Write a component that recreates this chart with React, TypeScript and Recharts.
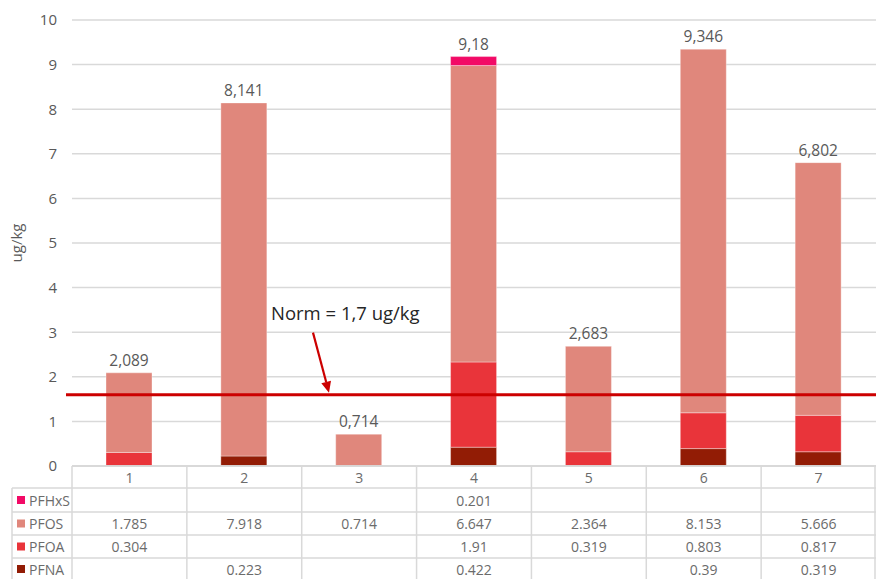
import React from 'react';
import {
  BarChart, Bar, XAxis, YAxis, CartesianGrid, ReferenceLine, LabelList,
} from 'recharts';

// ---- data ----
const categories = ['1', '2', '3', '4', '5', '6', '7'];
const pfhxs: (number | null)[] = [null, null, null, 0.201, null, null, null];
const pfos: (number | null)[] = [1.785, 7.918, 0.714, 6.647, 2.364, 8.153, 5.666];
const pfoa: (number | null)[] = [0.304, null, null, 1.91, 0.319, 0.803, 0.817];
const pfna: (number | null)[] = [null, 0.223, null, 0.422, null, 0.39, 0.319];
const yTicks = [0, 1, 2, 3, 4, 5, 6, 7, 8, 9, 10];
const normValue = 1.6; // drawn position of the line
const normText = 'Norm = 1,7 ug/kg';

// table order (top → bottom)
const SERIES = [
  { key: 'PFHxS', values: pfhxs, color: '#f20a66' },
  { key: 'PFOS', values: pfos, color: '#e0877c' },
  { key: 'PFOA', values: pfoa, color: '#e9343a' },
  { key: 'PFNA', values: pfna, color: '#921c05' },
];

const W = 876;
const H = 579;
const Y_AXIS_W = 72;
const TABLE_H = 113;
const COL_W = (W - Y_AXIS_W) / categories.length;
const ROW_LINES = [0, 22, 46, 69, 92];        // offsets below plot bottom
const ROW_CENTERS = [11, 34, 57.5, 80.5, 103];
const GRID = '#d9d9d9';
const TXT = '#6b6b6b';
const FONT = '"Open Sans", "DejaVu Sans", sans-serif';

const fmtTotal = (v: number) =>
  v.toFixed(3).replace(/0+$/, '').replace(/\.$/, '').replace('.', ',');

const chartData = categories.map((c, i) => {
  const row: Record<string, any> = { name: c };
  let total = 0;
  SERIES.forEach(s => {
    const v = s.values[i] ?? 0;
    row[s.key] = v;
    total += v;
  });
  row.total = fmtTotal(total);
  return row;
});

// topmost non-empty series key per total label
const topKeyByTotal: Record<string, string> = {};
chartData.forEach((row, i) => {
  const s = SERIES.find(s => (s.values[i] ?? 0) > 0);
  topKeyByTotal[row.total] = s ? s.key : '';
});

function TableTick(props: any) {
  const { x, y, payload, index } = props;
  const left = x - COL_W / 2;
  const right = x + COL_W / 2;
  const i = index as number;
  return (
    <g fontFamily={FONT}>
      <line x1={left} x2={left} y1={y} y2={y + TABLE_H} stroke={GRID} strokeWidth={1.5} />
      {i === categories.length - 1 && (
        <line x1={right - 1} x2={right - 1} y1={y} y2={y + TABLE_H} stroke={GRID} strokeWidth={1.5} />
      )}
      {ROW_LINES.map((r, k) => (
        <line key={k} x1={left} x2={right} y1={y + r} y2={y + r} stroke={GRID} strokeWidth={1.5} />
      ))}
      <text x={x} y={y + ROW_CENTERS[0]} textAnchor="middle" dominantBaseline="central"
        fontSize={14} fill={TXT}>{payload.value}</text>
      {SERIES.map((s, k) => {
        const v = s.values[i];
        if (v == null) return null;
        return (
          <text key={s.key} x={x} y={y + ROW_CENTERS[k + 1]} textAnchor="middle"
            dominantBaseline="central" fontSize={14} fill={TXT}>{String(v)}</text>
        );
      })}
      {i === 0 && (
        <g>
          <line x1={12} x2={12} y1={y + ROW_LINES[1]} y2={y + TABLE_H} stroke={GRID} strokeWidth={1.5} />
          {ROW_LINES.slice(1).map((r, k) => (
            <line key={k} x1={12} x2={left} y1={y + r} y2={y + r} stroke={GRID} strokeWidth={1.5} />
          ))}
          {SERIES.map((s, k) => (
            <g key={s.key}>
              <rect x={17} y={y + ROW_CENTERS[k + 1] - 4} width={8} height={8} fill={s.color} />
              <text x={29} y={y + ROW_CENTERS[k + 1]} dominantBaseline="central"
                fontSize={14} fill={TXT}>{s.key}</text>
            </g>
          ))}
        </g>
      )}
    </g>
  );
}

const makeTotalLabel = (seriesKey: string) => (props: any) => {
  const { x, y, width, value } = props;
  if (topKeyByTotal[value] !== seriesKey) return null;
  return (
    <text x={x + width / 2} y={y - 7} textAnchor="middle" fontSize={15.5}
      fontFamily={FONT} fill="#595959">{value}</text>
  );
};

function NormLine(props: any) {
  const { x1, x2, y1, y2 } = props;
  return <line x1={x1 - 6} x2={x2} y1={y1} y2={y2} stroke="#cc0000" strokeWidth={3} />;
}

function NormLabel(props: any) {
  const { viewBox } = props;
  const x0 = viewBox.x;
  const y0 = viewBox.y;
  const ax1 = x0 + 241, ay1 = y0 - 62;
  const ax2 = x0 + 257, ay2 = y0 - 2;
  const ang = Math.atan2(ay2 - ay1, ax2 - ax1);
  const hl = 11, hw = 5;
  const bx = ax2 - hl * Math.cos(ang), by = ay2 - hl * Math.sin(ang);
  const p1 = `${bx + hw * Math.sin(ang)},${by - hw * Math.cos(ang)}`;
  const p2 = `${bx - hw * Math.sin(ang)},${by + hw * Math.cos(ang)}`;
  return (
    <g>
      <text x={x0 + 199} y={y0 - 75} fontSize={18.5} fontFamily={FONT} fill="#262626">{normText}</text>
      <line x1={ax1} y1={ay1} x2={bx} y2={by} stroke="#cc0000" strokeWidth={2.2} />
      <polygon points={`${ax2},${ay2} ${p1} ${p2}`} fill="#cc0000" />
    </g>
  );
}

export default function App() {
  const stackOrder = [...SERIES].reverse(); // bottom → top
  return (
    <div style={{ position: 'absolute', left: 0, top: 0, width: W, height: H, background: '#fff' }}>
      <BarChart width={W} height={H} data={chartData}
        margin={{ top: 20, right: 0, left: 0, bottom: 0 }} barSize={46}>
        <CartesianGrid vertical={false} stroke={GRID} strokeWidth={1.5} />
        <XAxis dataKey="name" height={TABLE_H} interval={0} tickSize={0} tickMargin={0}
          axisLine={{ stroke: GRID, strokeWidth: 1.5 }} tickLine={false} tick={<TableTick />} />
        <YAxis width={Y_AXIS_W} domain={[0, 10]} ticks={yTicks} interval={0}
          axisLine={false} tickLine={false} tickSize={0} tickMargin={15}
          tick={{ fontSize: 15, fill: '#595959', fontFamily: FONT }}
          label={{ value: 'ug/kg', angle: -90, position: 'insideLeft', offset: 17,
            style: { fontSize: 15, fill: '#595959', fontFamily: FONT, textAnchor: 'middle' } }} />
        {stackOrder.map(s => (
          <Bar key={s.key} dataKey={s.key} stackId="a" fill={s.color}
            stroke="#ffffff" strokeOpacity={0.35} strokeWidth={1} isAnimationActive={false}>
            <LabelList dataKey="total" content={makeTotalLabel(s.key)} />
          </Bar>
        ))}
        <ReferenceLine y={normValue} shape={<NormLine />} label={<NormLabel />} />
      </BarChart>
    </div>
  );
}
